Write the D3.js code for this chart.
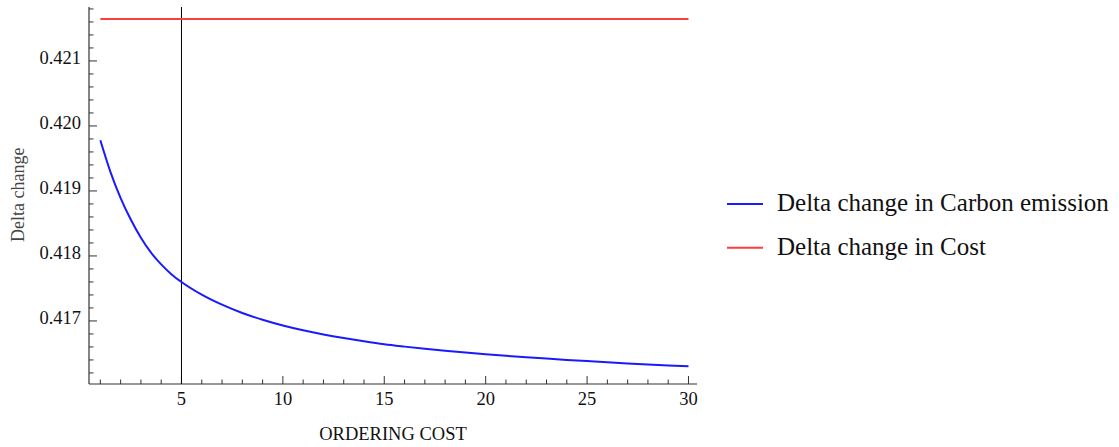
<!DOCTYPE html>
<html>
<head>
<meta charset="utf-8">
<script src="https://cdn.jsdelivr.net/npm/d3@7/dist/d3.min.js"></script>
<style>
  html, body { margin: 0; padding: 0; background: #fff; }
  svg { display: block; font-family: "Liberation Serif", "Times New Roman", serif; }
</style>
</head>
<body>
<div id="chart"></div>
<script>
// Delta change vs ordering cost

// data
const orderingCost = [1, 1.5, 2, 2.5, 3, 3.5, 4, 4.5, 5, 6, 7, 8, 9, 10, 11, 12, 13, 14, 15,
  16, 17, 18, 19, 20, 21, 22, 23, 24, 25, 26, 27, 28, 29, 30];
const carbonDelta = [0.41978, 0.41929, 0.41889, 0.41856, 0.41828, 0.41805, 0.41787, 0.41772,
  0.41760, 0.417405, 0.417250, 0.417122, 0.417018, 0.416930, 0.416856, 0.416792,
  0.416736, 0.416686, 0.416641, 0.416605, 0.416572, 0.416542, 0.416514, 0.416488,
  0.416464, 0.416442, 0.416421, 0.416401, 0.416382, 0.416364, 0.416347, 0.416331,
  0.416316, 0.416302];
const costX = [1, 30];
const costDelta = [0.421647, 0.421647];
const markerX = 5;

const xMajorTicks = [5, 10, 15, 20, 25, 30];
const yMajorTicks = [0.417, 0.418, 0.419, 0.420, 0.421];
const seriesNames = ["Delta change in Carbon emission", "Delta change in Cost"];
const seriesColors = ["#1a1aff", "#ff3b3b"];

// layout
const WIDTH = 1119, HEIGHT = 447;
const plot = { left: 89, right: 697, top: 7, bottom: 384 };

const svg = d3.select("#chart").append("svg")
  .attr("width", WIDTH)
  .attr("height", HEIGHT);

const x = d3.scaleLinear().domain([0.44, 30.42]).range([plot.left, plot.right]);
const y = d3.scaleLinear().domain([0.41603, 0.42183]).range([plot.bottom, plot.top]);

const axisColor = "#333";

// axis lines
svg.append("line")
  .attr("x1", plot.left).attr("x2", plot.left).attr("y1", plot.top).attr("y2", plot.bottom)
  .attr("stroke", axisColor).attr("stroke-width", 1.2);
svg.append("line")
  .attr("x1", plot.left).attr("x2", plot.right).attr("y1", plot.bottom).attr("y2", plot.bottom)
  .attr("stroke", axisColor).attr("stroke-width", 1.2);

// x ticks (minor every 1, major every 5)
const xMinor = d3.range(1, 31).filter(v => !xMajorTicks.includes(v));
svg.append("g").selectAll("line")
  .data(xMinor).enter().append("line")
  .attr("x1", d => x(d)).attr("x2", d => x(d))
  .attr("y1", plot.bottom).attr("y2", plot.bottom - 4.5)
  .attr("stroke", axisColor).attr("stroke-width", 1);
svg.append("g").selectAll("line")
  .data(xMajorTicks).enter().append("line")
  .attr("x1", d => x(d)).attr("x2", d => x(d))
  .attr("y1", plot.bottom).attr("y2", plot.bottom - 8)
  .attr("stroke", axisColor).attr("stroke-width", 1);
svg.append("g").selectAll("text")
  .data(xMajorTicks).enter().append("text")
  .attr("x", d => x(d))
  .attr("y", 404.5)
  .attr("text-anchor", "middle")
  .attr("fill", "#111")
  .style("font-size", "18.5px")
  .text(d => d);

// y ticks (minor every 0.0002)
const yMinor = d3.range(4162, 4219, 2).map(v => v / 10000)
  .filter(v => !yMajorTicks.some(t => Math.abs(t - v) < 1e-7));
svg.append("g").selectAll("line")
  .data(yMinor).enter().append("line")
  .attr("x1", plot.left).attr("x2", plot.left + 4.5)
  .attr("y1", d => y(d)).attr("y2", d => y(d))
  .attr("stroke", axisColor).attr("stroke-width", 1);
svg.append("g").selectAll("line")
  .data(yMajorTicks).enter().append("line")
  .attr("x1", plot.left).attr("x2", plot.left + 8)
  .attr("y1", d => y(d)).attr("y2", d => y(d))
  .attr("stroke", axisColor).attr("stroke-width", 1);
svg.append("g").selectAll("text")
  .data(yMajorTicks).enter().append("text")
  .attr("x", plot.left - 8)
  .attr("y", d => y(d) + 3.5)
  .attr("text-anchor", "end")
  .attr("fill", "#111")
  .style("font-size", "18.5px")
  .text(d => d3.format(".3f")(d));

// axis labels
svg.append("text")
  .attr("x", (plot.left + plot.right) / 2)
  .attr("y", 440)
  .attr("text-anchor", "middle")
  .attr("fill", "#111")
  .style("font-size", "18.5px")
  .text("ORDERING COST");

// y label is clipped at its top end in the original
svg.append("clipPath").attr("id", "ylab-clip")
  .append("rect").attr("x", 0).attr("y", 147).attr("width", 40).attr("height", 200);
svg.append("g")
  .attr("clip-path", "url(#ylab-clip)")
  .append("text")
  .attr("transform", "translate(24,242) rotate(-90)")
  .attr("text-anchor", "start")
  .attr("fill", "#444")
  .style("font-size", "18px")
  .text("Delta change");

// marker line at ordering cost 5
svg.append("line")
  .attr("x1", x(markerX)).attr("x2", x(markerX))
  .attr("y1", plot.top).attr("y2", plot.bottom)
  .attr("stroke", "#000").attr("stroke-width", 1);

// series
const lineGen = d3.line()
  .x(d => x(d[0]))
  .y(d => y(d[1]))
  .curve(d3.curveMonotoneX);

svg.append("path")
  .datum(orderingCost.map((c, i) => [c, carbonDelta[i]]))
  .attr("d", lineGen)
  .attr("fill", "none")
  .attr("stroke", seriesColors[0])
  .attr("stroke-width", 2);

svg.append("path")
  .datum(costX.map((c, i) => [c, costDelta[i]]))
  .attr("d", lineGen)
  .attr("fill", "none")
  .attr("stroke", seriesColors[1])
  .attr("stroke-width", 2);

// legend
const legendG = svg.append("g").attr("transform", "translate(727,204)");
seriesNames.forEach((name, i) => {
  const row = legendG.append("g").attr("transform", `translate(0,${i * 43.7})`);
  row.append("line")
    .attr("x1", 0).attr("x2", 36).attr("y1", 0).attr("y2", 0)
    .attr("stroke", seriesColors[i]).attr("stroke-width", 2);
  row.append("text")
    .attr("x", 50)
    .attr("y", 7)
    .attr("fill", "#111")
    .style("font-size", "25px")
    .text(name);
});
</script>
</body>
</html>
